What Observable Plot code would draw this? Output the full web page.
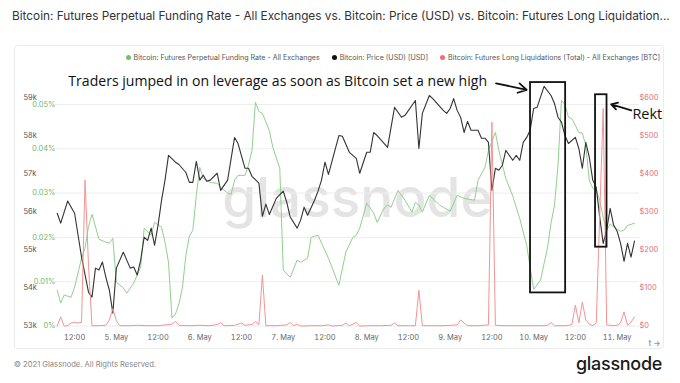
<!DOCTYPE html>
<html>
<head>
<meta charset="utf-8">
<script src="https://cdn.jsdelivr.net/npm/d3@7"></script>
<script src="https://cdn.jsdelivr.net/npm/@observablehq/plot@0.6"></script>
<style>
  html, body { margin: 0; padding: 0; background: #fff; }
  body { width: 680px; height: 383px; position: relative; overflow: hidden; font-family: Inter, "Noto Sans", sans-serif; }
  #title { position: absolute; left: 12px; top: 9px; font-size: 11.8px; color: #333; white-space: nowrap; }
  #box { position: absolute; left: 14px; top: 45px; width: 650px; height: 304px; border: 1px solid #ececec; border-radius: 3px; box-sizing: border-box; }
  #chart { position: absolute; left: -1px; top: -1px; }
  #legend { position: absolute; right: 3px; top: 7px; font-size: 7.1px; color: #555; white-space: nowrap; }
  #legend span { margin-left: 12px; }
  #legend i { display: inline-block; width: 5px; height: 5px; border-radius: 50%; margin-right: 3px; vertical-align: 0px; }
  #copy { position: absolute; left: 14px; top: 360px; font-size: 7.6px; color: #888; }
  #logo { position: absolute; right: 18px; top: 353px; font-size: 18px; font-weight: 500; color: #1a1a1a; letter-spacing: -0.3px; }
</style>
</head>
<body>
<div id="title">Bitcoin: Futures Perpetual Funding Rate - All Exchanges vs. Bitcoin: Price (USD) vs. Bitcoin: Futures Long Liquidation...</div>
<div id="box">
  <div id="chart"></div>
  <div id="legend"></div>
</div>
<div id="copy">© 2021 Glassnode. All Rights Reserved.</div>
<div id="logo">glassnode</div>
<script>
// ---- Data (hours since 4 May 2021 00:00 UTC) ----
const priceHours = [7,8,10,12,14,16,17,18,19,20,21,22,23,24,26,28,29,30,31,32,33,34,35,36,37,38,39,41,42,44,45,46,47,48,49,50,51,53,54,56,58,59,61,62,63,65,66,67,68,70,72,73,74,76,77,78,79,81,82,83,84,85,88,89,91,93,94,96,97,98,99,102,104,106,107,110,111,112,114,115,118,119,120,121,122,123,124,125,126,128,129,130,131,132,133,134,135,136,138,139,140,141,142,143,144,145,147,149,150,151,152,153,154,156,157,158,159,160,161,162,163,164,165,166,167,168,169,170,171,172,173];
const priceUSD = [55960,55700,56280,55960,54810,53890,53760,54520,54470,54680,54280,53940,53340,54520,54940,54520,54550,54340,54730,55330,55250,55570,55120,55650,56300,56830,57480,57300,57240,57030,56770,56770,57320,56830,56960,56800,56830,57010,56560,56830,57950,57790,57140,57140,56930,56750,55880,56200,55930,56350,56540,56250,55860,55570,55780,56120,55910,56300,56540,56830,57300,56980,58000,57980,57560,57400,57010,57560,57560,58080,58000,57690,58740,58480,58530,58920,57660,58580,59050,58970,58660,58580,58710,58970,58660,58480,58080,58370,58140,58140,57930,57930,57820,56560,57140,57090,57220,57610,57350,57480,57350,57820,57950,58140,58710,58740,59290,59050,58840,58480,58350,58000,57790,57950,57660,57140,57820,57430,56830,56640,55860,55170,55520,56090,55650,55490,55170,54700,55170,54810,55230];

const fundingHours = [7,8,9,11,12,14,15,16,17,19,21,22,23,24,26,27,29,31,32,34,35,37,38,39,40,41,42,43,44,45,46,47,48,49,51,53,54,56,57,58,59,61,62,63,64,65,66,68,69,71,72,74,76,77,79,80,82,85,88,90,92,93,94,96,98,99,101,102,103,105,107,109,110,111,112,114,117,118,120,122,124,127,128,130,131,133,134,136,138,140,142,144,146,148,149,150,151,152,153,154,155,157,158,159,160,161,162,163,164,165,166,168,169,170,171,173];
const fundingPct = [0.0081,0.0052,0.0070,0.0065,0.0088,0.0153,0.0176,0.0225,0.0252,0.0196,0.0189,0.0187,0.0198,0.0099,0.0086,0.0074,0.0097,0.0133,0.0221,0.0205,0.0234,0.0223,0.0189,0.0144,0.0018,0.0027,0.0050,0.0086,0.0160,0.0203,0.0216,0.0295,0.0358,0.0333,0.0324,0.0322,0.0313,0.0300,0.0297,0.0329,0.0340,0.0340,0.0363,0.0396,0.0505,0.0484,0.0480,0.0441,0.0403,0.0356,0.0126,0.0110,0.0149,0.0144,0.0153,0.0200,0.0205,0.0153,0.0092,0.0167,0.0200,0.0205,0.0221,0.0277,0.0255,0.0234,0.0266,0.0273,0.0268,0.0306,0.0284,0.0257,0.0279,0.0273,0.0257,0.0295,0.0273,0.0268,0.0259,0.0295,0.0288,0.0284,0.0329,0.0358,0.0396,0.0437,0.0396,0.0333,0.0293,0.0243,0.0182,0.0083,0.0104,0.0178,0.0232,0.0273,0.0363,0.0509,0.0500,0.0471,0.0468,0.0437,0.0435,0.0408,0.0329,0.0311,0.0306,0.0284,0.0245,0.0216,0.0230,0.0218,0.0214,0.0216,0.0227,0.0232];

const liqHours = [7,8,9,10,11,12,13,14,15,16,17,19,21,22,23,24,25,28,30,33,36,38,40,41,42,45,48,51,53,54,55,58,60,61,63,64,65,66,67,70,73,74,75,76,77,80,83,85,86,89,90,91,93,94,97,100,103,104,105,108,110,111,112,115,118,120,122,123,124,125,128,131,132,133,136,140,144,147,148,149,150,153,154,155,156,157,158,159,160,161,162,163,164,165,167,168,169,170,171,172,173];
const liqBTC = [0,24,0,1,8,10,8,10,383,160,1,1,2,16,46,14,1,1,2,1,1,3,5,12,2,1,2,1,4,9,1,2,8,2,4,12,4,134,1,1,3,9,1,5,0,1,1,3,0,2,8,1,9,0,1,1,2,8,1,1,1,94,1,1,1,2,3,16,8,1,1,3,535,2,1,1,1,1,2,9,1,1,2,4,55,8,63,16,5,1,8,290,571,3,1,2,8,37,2,10,24];

const priceTicks = [53000,54000,55000,56000,57000,58000,59000];
const fundingTicks = [0,0.01,0.02,0.03,0.04,0.05];
const liqTicks = [0,100,200,300,400,500,600];
const xTickHours = [12,24,36,48,60,72,84,96,108,120,132,144,156,168];

const seriesNames = ["Bitcoin: Futures Perpetual Funding Rate - All Exchanges", "Bitcoin: Price (USD) [USD]", "Bitcoin: Futures Long Liquidations (Total) - All Exchanges [BTC]"];
const seriesColors = ["#6cc36a", "#111111", "#f07070"];

const annotationText = "Traders jumped in on leverage as soon as Bitcoin set a new high";
const rektText = "Rekt";
// annotation anchors in data units (hour, USD-scale)
const boxes = [{h1: 143.1, h2: 153.2, p1: 53870, p2: 59390}, {h1: 161.8, h2: 165.1, p1: 55070, p2: 59070}];
const arrows = [{h1: 133.2, p1: 59370, h2: 142.0, p2: 59200}, {h1: 172.1, p1: 58660, h2: 166.3, p2: 58820}];
const labels = [{h: 10.2, p: 59420, text: annotationText, size: 14.1}, {h: 172.4, p: 58560, text: rektText, size: 14.5}];

// ---- helpers ----
const BASE = Date.UTC(2021, 4, 4);
const hToDate = h => new Date(BASE + h * 3600e3);
const fundToY = f => 53000 + f / 0.05 * 5816;   // secondary (left, green) axis
const liqToY = l => 53000 + l * 10;             // secondary (right, red) axis

const priceData = priceHours.map((h, i) => ({t: hToDate(h), v: priceUSD[i]}));
const fundData = fundingHours.map((h, i) => ({t: hToDate(h), v: fundToY(fundingPct[i])}));
const liqData = liqHours.map((h, i) => ({t: hToDate(h), v: liqToY(liqBTC[i])}));

const fmtX = d => d.getUTCHours() === 0 ? `${d.getUTCDate()}. May` : "12:00";

const chart = Plot.plot({
  width: 650,
  height: 304,
  marginLeft: 41,
  marginRight: 24,
  marginTop: 52,
  marginBottom: 23,
  style: {fontFamily: "Inter, sans-serif", fontSize: "7.5px", background: "transparent", overflow: "visible"},
  x: {type: "utc", domain: [hToDate(6.49), hToDate(174.45)]},
  y: {domain: [53000, 59000], axis: null},
  marks: [
    Plot.text(["glassnode"], {frameAnchor: "middle", text: d => d, fontSize: 55, fontWeight: 500, fill: "#e4e4e4", dx: 10, dy: -12}),
    Plot.ruleY(fundingTicks.map(fundToY), {stroke: "#ededed", strokeWidth: 1}),
    Plot.axisX(xTickHours.map(hToDate), {tickSize: 0, tickPadding: 9, tickFormat: fmtX, color: "#666", fontSize: 7.5}),
    Plot.text(priceTicks, {y: d => d, text: d => d / 1000 + "k", frameAnchor: "left", textAnchor: "start", dx: -32, fill: "#555", fontSize: 7.5}),
    Plot.text(fundingTicks, {y: d => fundToY(d), text: d => (d === 0 ? "0" : d.toFixed(2)) + "%", frameAnchor: "left", textAnchor: "end", dx: 0, fill: "#6fb86b", fontSize: 7.5}),
    Plot.text(liqTicks, {y: d => liqToY(d), text: d => "$" + d, frameAnchor: "right", textAnchor: "start", dx: 0, fill: "#e07474", fontSize: 7.5}),
    Plot.line(fundData, {x: "t", y: "v", stroke: "#8fd18a", strokeWidth: 1}),
    Plot.line(priceData, {x: "t", y: "v", stroke: "#333", strokeWidth: 1.1}),
    Plot.line(liqData, {x: "t", y: "v", stroke: "#f39393", strokeWidth: 1}),
    Plot.rect(boxes, {x1: d => hToDate(d.h1), x2: d => hToDate(d.h2), y1: "p1", y2: "p2", fill: "none", stroke: "#111", strokeWidth: 1.8}),
    Plot.arrow(arrows, {x1: d => hToDate(d.h1), y1: "p1", x2: d => hToDate(d.h2), y2: "p2", stroke: "#111", strokeWidth: 1.8, headLength: 8}),
    Plot.text(labels, {x: d => hToDate(d.h), y: "p", text: "text", textAnchor: "start", fontSize: d => d.size, fontFamily: "Open Sans, sans-serif", fill: "#111"})
  ]
});
document.getElementById("chart").appendChild(chart);

const legend = document.getElementById("legend");
seriesNames.forEach((n, i) => {
  const s = document.createElement("span");
  const dot = document.createElement("i");
  dot.style.background = seriesColors[i];
  s.appendChild(dot);
  s.appendChild(document.createTextNode(n));
  legend.appendChild(s);
});
</script>
</body>
</html>
